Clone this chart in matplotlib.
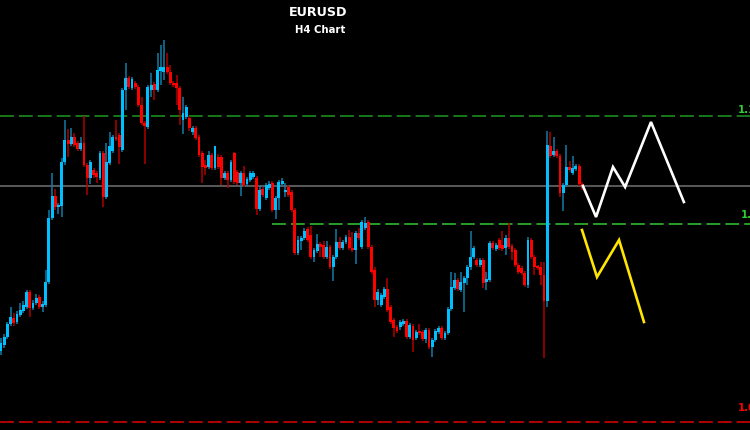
import matplotlib
matplotlib.use("Agg")
import matplotlib.pyplot as plt

plt.rcParams['lines.scale_dashes'] = False
plt.rcParams['font.family'] = ['DejaVu Sans']

# ---- data (EURUSD H4 candles) ----
opens = [1.0873, 1.0879, 1.0887, 1.0900, 1.0906, 1.0902, 1.0909, 1.0913, 1.0917, 1.0932,
         1.0916, 1.0921, 1.0927, 1.0917, 1.0919, 1.0942, 1.1006, 1.1028, 1.1017, 1.1018,
         1.1062, 1.1084, 1.1080, 1.1087, 1.1081, 1.1075, 1.1081, 1.1059, 1.1046, 1.1054,
         1.1051, 1.1046, 1.1071, 1.1027, 1.1061, 1.1073, 1.1087, 1.1089, 1.1074, 1.1134,
         1.1146, 1.1136, 1.1141, 1.1137, 1.1119, 1.1101, 1.1097, 1.1134, 1.1140, 1.1134,
         1.1153, 1.1152, 1.1157, 1.1152, 1.1141, 1.1141, 1.1136, 1.1104, 1.1107, 1.1106,
         1.1092, 1.1096, 1.1087, 1.1071, 1.1059, 1.1057, 1.1069, 1.1056, 1.1067, 1.1067,
         1.1046, 1.1051, 1.1044, 1.1071, 1.1052, 1.1041, 1.1051, 1.1040, 1.1044, 1.1047,
         1.1046, 1.1015, 1.1035, 1.1026, 1.1036, 1.1041, 1.1014, 1.1026, 1.1040, 1.1032,
         1.1037, 1.1032, 1.1014, 1.0971, 1.0983, 1.0986, 1.0995, 1.0989, 1.0967, 1.0973,
         1.0980, 1.0979, 1.0967, 1.0977, 1.0957, 1.0967, 1.0982, 1.0976, 1.0982, 1.0987,
         1.0976, 1.0974, 1.0991, 1.0977, 1.0996, 1.1002, 1.0977, 1.0954, 1.0924, 1.0919,
         1.0927, 1.0935, 1.0917, 1.0904, 1.0897, 1.0897, 1.0900, 1.0903, 1.0887, 1.0898,
         1.0886, 1.0892, 1.0892, 1.0885, 1.0894, 1.0877, 1.0884, 1.0892, 1.0896, 1.0886,
         1.0891, 1.0915, 1.0936, 1.0944, 1.0934, 1.0941, 1.0946, 1.0957, 1.0967, 1.0964,
         1.0959, 1.0964, 1.0942, 1.0944, 1.0981, 1.0975, 1.0984, 1.0979, 1.0976, 1.0986,
         1.0978, 1.0974, 1.0959, 1.0956, 1.0951, 1.0939, 1.0984, 1.0967, 1.0957, 1.0957,
         1.0949, 1.0923, 1.1078, 1.1069, 1.1073, 1.1068, 1.1031, 1.1039, 1.1057, 1.1051,
         1.1055, 1.1058, 1.1040]
highs = [1.0886, 1.0890, 1.0902, 1.0917, 1.0911, 1.0913, 1.0921, 1.0923, 1.0934, 1.0934,
         1.0924, 1.0930, 1.0929, 1.0923, 1.0954, 1.1014, 1.1051, 1.1035, 1.1021, 1.1066,
         1.1104, 1.1095, 1.1096, 1.1091, 1.1083, 1.1087, 1.1108, 1.1061, 1.1064, 1.1056,
         1.1053, 1.1073, 1.1073, 1.1081, 1.1092, 1.1089, 1.1104, 1.1091, 1.1136, 1.1161,
         1.1148, 1.1147, 1.1143, 1.1139, 1.1127, 1.1103, 1.1139, 1.1151, 1.1142, 1.1171,
         1.1179, 1.1184, 1.1171, 1.1159, 1.1143, 1.1149, 1.1138, 1.1127, 1.1119, 1.1108,
         1.1098, 1.1098, 1.1089, 1.1073, 1.1064, 1.1073, 1.1071, 1.1078, 1.1070, 1.1069,
         1.1053, 1.1053, 1.1064, 1.1072, 1.1054, 1.1053, 1.1058, 1.1047, 1.1053, 1.1053,
         1.1048, 1.1039, 1.1037, 1.1041, 1.1043, 1.1043, 1.1028, 1.1044, 1.1046, 1.1041,
         1.1039, 1.1034, 1.1016, 1.0988, 1.0988, 1.0996, 1.0997, 1.0998, 1.0976, 1.0990,
         1.0982, 1.0983, 1.0983, 1.0979, 1.0969, 1.0995, 1.0987, 1.0984, 1.0989, 1.0994,
         1.0992, 1.0993, 1.0996, 1.1004, 1.1007, 1.1004, 1.0979, 1.0957, 1.0935, 1.0931,
         1.0937, 1.0946, 1.0919, 1.0906, 1.0899, 1.0904, 1.0905, 1.0905, 1.0901, 1.0900,
         1.0894, 1.0900, 1.0894, 1.0896, 1.0896, 1.0886, 1.0895, 1.0898, 1.0898, 1.0893,
         1.0917, 1.0952, 1.0951, 1.0946, 1.0952, 1.0948, 1.0959, 1.0993, 1.0978, 1.0966,
         1.0966, 1.0966, 1.0952, 1.0983, 1.0983, 1.0981, 1.0986, 1.0993, 1.0989, 1.1001,
         1.0980, 1.0976, 1.0961, 1.0958, 1.0953, 1.0987, 1.0986, 1.0969, 1.0959, 1.0962,
         1.0962, 1.1093, 1.1092, 1.1087, 1.1075, 1.1070, 1.1041, 1.1079, 1.1063, 1.1068,
         1.1060, 1.1060, 1.1042]
lows = [1.0869, 1.0876, 1.0885, 1.0898, 1.0898, 1.0900, 1.0907, 1.0911, 1.0915, 1.0907,
        1.0914, 1.0919, 1.0915, 1.0912, 1.0917, 1.0940, 1.1004, 1.1014, 1.1010, 1.1007,
        1.1059, 1.1067, 1.1078, 1.1077, 1.1073, 1.1073, 1.1057, 1.1029, 1.1040, 1.1046,
        1.1041, 1.1044, 1.1017, 1.1025, 1.1059, 1.1071, 1.1083, 1.1060, 1.1072, 1.1114,
        1.1135, 1.1134, 1.1135, 1.1117, 1.1099, 1.1060, 1.1095, 1.1127, 1.1124, 1.1132,
        1.1139, 1.1144, 1.1150, 1.1139, 1.1137, 1.1119, 1.1099, 1.1090, 1.1105, 1.1093,
        1.1089, 1.1084, 1.1067, 1.1041, 1.1049, 1.1055, 1.1054, 1.1054, 1.1055, 1.1039,
        1.1044, 1.1036, 1.1042, 1.1040, 1.1039, 1.1028, 1.1037, 1.1038, 1.1042, 1.1045,
        1.1009, 1.1013, 1.1027, 1.1024, 1.1034, 1.1012, 1.1005, 1.1014, 1.1038, 1.1027,
        1.1027, 1.1012, 1.0969, 1.0969, 1.0974, 1.0984, 1.0982, 1.0965, 1.0962, 1.0971,
        1.0967, 1.0965, 1.0965, 1.0955, 1.0943, 1.0965, 1.0974, 1.0974, 1.0980, 1.0974,
        1.0972, 1.0960, 1.0984, 1.0975, 1.0994, 1.0975, 1.0950, 1.0917, 1.0919, 1.0917,
        1.0925, 1.0912, 1.0900, 1.0887, 1.0891, 1.0894, 1.0898, 1.0885, 1.0885, 1.0872,
        1.0884, 1.0889, 1.0883, 1.0881, 1.0875, 1.0867, 1.0882, 1.0890, 1.0884, 1.0884,
        1.0889, 1.0913, 1.0934, 1.0933, 1.0932, 1.0912, 1.0939, 1.0954, 1.0965, 1.0957,
        1.0957, 1.0936, 1.0934, 1.0942, 1.0974, 1.0973, 1.0974, 1.0973, 1.0969, 1.0975,
        1.0964, 1.0957, 1.0950, 1.0949, 1.0937, 1.0936, 1.0965, 1.0949, 1.0954, 1.0939,
        1.0866, 1.0917, 1.1066, 1.1067, 1.1066, 1.1027, 1.1013, 1.1037, 1.1052, 1.1049,
        1.1053, 1.1038, 1.1034]
closes = [1.0881, 1.0887, 1.0900, 1.0907, 1.0901, 1.0910, 1.0914, 1.0919, 1.0932, 1.0916,
          1.0921, 1.0926, 1.0917, 1.0920, 1.0942, 1.1006, 1.1028, 1.1017, 1.1019, 1.1062,
          1.1084, 1.1080, 1.1087, 1.1079, 1.1075, 1.1081, 1.1059, 1.1046, 1.1062, 1.1049,
          1.1047, 1.1071, 1.1027, 1.1062, 1.1078, 1.1087, 1.1085, 1.1077, 1.1134, 1.1146,
          1.1137, 1.1145, 1.1137, 1.1119, 1.1101, 1.1098, 1.1137, 1.1139, 1.1134, 1.1154,
          1.1157, 1.1157, 1.1152, 1.1141, 1.1139, 1.1136, 1.1114, 1.1111, 1.1117, 1.1096,
          1.1096, 1.1086, 1.1069, 1.1057, 1.1056, 1.1069, 1.1056, 1.1078, 1.1057, 1.1046,
          1.1051, 1.1044, 1.1062, 1.1042, 1.1041, 1.1051, 1.1039, 1.1045, 1.1051, 1.1051,
          1.1015, 1.1034, 1.1029, 1.1039, 1.1040, 1.1014, 1.1026, 1.1042, 1.1043, 1.1034,
          1.1029, 1.1014, 1.0971, 1.0984, 1.0986, 1.0993, 1.0984, 1.0967, 1.0974, 1.0980,
          1.0977, 1.0967, 1.0977, 1.0957, 1.0967, 1.0982, 1.0976, 1.0982, 1.0987, 1.0976,
          1.0974, 1.0991, 1.0986, 1.1002, 1.1001, 1.0977, 1.0952, 1.0924, 1.0932, 1.0929,
          1.0935, 1.0914, 1.0902, 1.0896, 1.0893, 1.0902, 1.0903, 1.0887, 1.0899, 1.0884,
          1.0892, 1.0891, 1.0885, 1.0894, 1.0877, 1.0884, 1.0893, 1.0896, 1.0886, 1.0891,
          1.0915, 1.0937, 1.0944, 1.0935, 1.0942, 1.0946, 1.0957, 1.0967, 1.0976, 1.0959,
          1.0964, 1.0941, 1.0945, 1.0981, 1.0976, 1.0979, 1.0976, 1.0975, 1.0986, 1.0977,
          1.0972, 1.0959, 1.0952, 1.0951, 1.0939, 1.0984, 1.0967, 1.0957, 1.0956, 1.0949,
          1.0923, 1.1079, 1.1068, 1.1073, 1.1068, 1.1031, 1.1039, 1.1057, 1.1054, 1.1056,
          1.1058, 1.1040, 1.1036]

# horizontal levels
level_top = 1.1108      # green dashed resistance
level_mid = 1.1000      # green dashed support (starts at candle 85)
level_mid_start = 85
level_now = 1.1038      # grey current price line
level_low = 1.0802      # red dashed level
level_labels = ["1.1108", "1.1000", "1.0802"]

# projected paths (bar index, price)
white_x = [182.2, 186.3, 191.6, 195.4, 203.5, 213.8]
white_y = [1.1038, 1.1007, 1.1057, 1.1037, 1.1102, 1.1022]
yellow_x = [181.9, 186.6, 193.5, 201.3]
yellow_y = [1.0994, 1.0947, 1.0984, 1.0902]

# ---- drawing ----
W, H = 750, 430
fig = plt.figure(figsize=(W / 100, H / 100), dpi=100, facecolor='black')
ax = fig.add_axes([0, 0, 1, 1])
ax.set_facecolor('black')
ax.set_axis_off()

step = 3.194  # pixels per bar
ax.set_xlim(-1 / step, (W - 1) / step)
ax.set_ylim(1.0794, 1.1224)

UP_BODY, UP_WICK = '#00BFFF', '#137CA6'
DN_BODY, DN_WICK = '#FF0000', '#B00000'

xs = list(range(len(opens)))
for i in xs:
    o, h, l, c = opens[i], highs[i], lows[i], closes[i]
    up = c >= o
    ax.vlines(i, l, h, color=UP_WICK if up else DN_WICK, linewidth=1.1, zorder=2)
    bottom = min(o, c)
    height = max(abs(c - o), 0.00015)
    ax.bar(i, height, bottom=bottom, width=0.9,
           color=UP_BODY if up else DN_BODY, linewidth=0, zorder=3)

ax.axhline(level_top, color='#1E8C1E', linewidth=1.2, linestyle=(0, (10, 3.6)), zorder=1)
ax.hlines(level_mid, level_mid_start, (W - 1) / step, color='#2EB82E', linewidth=1.2,
          linestyle=(0, (10, 3.6)), zorder=1)
ax.axhline(level_now, color='#5A5A5A', linewidth=1.4, zorder=1)
ax.axhline(level_low, color='#D00000', linewidth=1.2, linestyle=(0, (10, 3.6)), zorder=1)

ax.plot(white_x, white_y, color='white', linewidth=1.9, zorder=4, solid_joinstyle='miter')
ax.plot(yellow_x, yellow_y, color='#FFE600', linewidth=1.9, zorder=4, solid_joinstyle='miter')

# price labels at the right edge (partly outside the window, as in the reference)
fig.text(738 / W, 1 - 110 / H, level_labels[0], color='#32CD32', fontsize=7.3,
         fontweight='bold', ha='left', va='center')
fig.text(741 / W, 1 - 215 / H, level_labels[1], color='#32CD32', fontsize=7.3,
         fontweight='bold', ha='left', va='center')
fig.text(738 / W, 1 - 408 / H, level_labels[2], color='#FF0000', fontsize=7.3,
         fontweight='bold', ha='left', va='center')

fig.text(318 / W, 1 - 12 / H, "EURUSD", color='white', fontsize=9.2,
         fontweight='bold', ha='center', va='center')
fig.text(320 / W, 1 - 30 / H, "H4 Chart", color='white', fontsize=7.3,
         fontweight='bold', ha='center', va='center')

fig.savefig('out.png', dpi=100, facecolor='black')
